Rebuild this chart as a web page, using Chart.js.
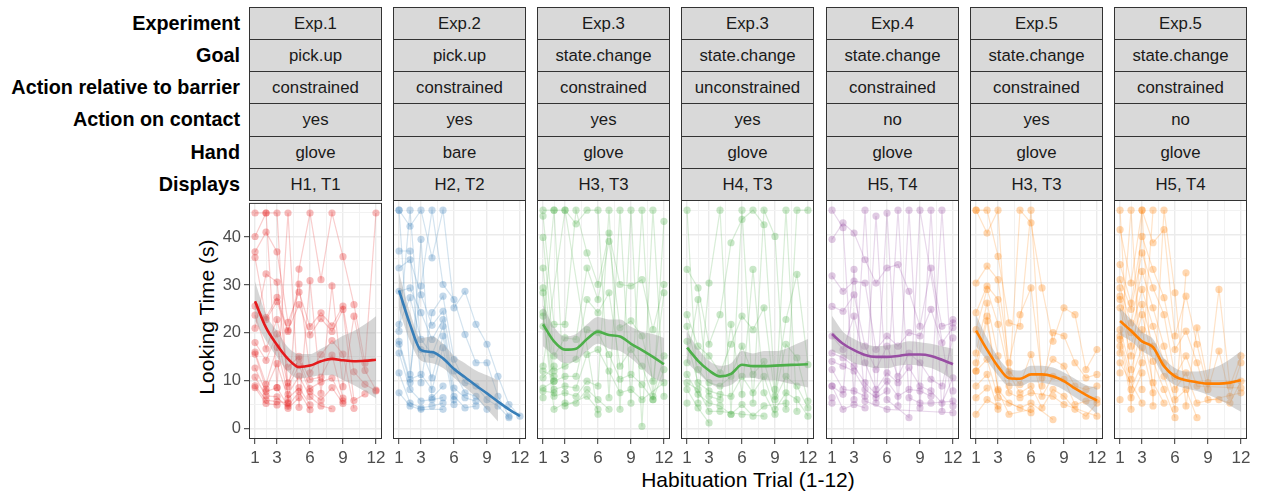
<!DOCTYPE html>
<html><head><meta charset="utf-8">
<script src="https://cdn.jsdelivr.net/npm/chart.js@4/dist/chart.umd.min.js"></script>
<style>
html,body{margin:0;padding:0;background:#fff;}
body{width:1261px;height:494px;position:relative;overflow:hidden;font-family:'Liberation Sans',Arial,sans-serif;}
.strip{position:absolute;box-sizing:border-box;border:1px solid #333;background:#d9d9d9;color:#1a1a1a;font-size:16.8px;display:flex;align-items:center;justify-content:center;white-space:nowrap;}
.rowtitle{position:absolute;left:0;width:240px;text-align:right;font-weight:bold;font-size:19.8px;color:#000;white-space:nowrap;}
.axtitle{position:absolute;font-size:21px;color:#000;text-align:center;white-space:nowrap;line-height:24px;}
canvas{position:absolute;}
</style></head><body>
<script>
// ---------- data ----------
const trials = [1,2,3,4,5,6,7,8,9,10,11,12];
const xTickLabels = [1,3,6,9,12];
const yTickLabels = [0,10,20,30,40];
const rowTitles = ['Experiment','Goal','Action relative to barrier','Action on contact','Hand','Displays'];
const experiments = ['Exp.1','Exp.2','Exp.3','Exp.3','Exp.4','Exp.5','Exp.5'];
const goals = ['pick.up','pick.up','state.change','state.change','state.change','state.change','state.change'];
const barrierRel = ['constrained','constrained','constrained','unconstrained','constrained','constrained','constrained'];
const onContact = ['yes','yes','yes','yes','no','yes','no'];
const hands = ['glove','bare','glove','glove','glove','glove','glove'];
const displays = ['H1, T1','H2, T2','H3, T3','H4, T3','H5, T4','H3, T3','H5, T4'];
const xTitle = 'Habituation Trial (1-12)';
const yTitle = 'Looking Time (s)';

const exp1Subjects = [
[45,45,45,5.3,33.3,45,31.1,45,35.9,25.9,13.7,45],
[40.1,45,8.6,45,4.5,30.9,7.4,29.8,8.8,23.5,12.2,8.1],
[36.9,41,36.9,22.2,28.5,21.3,24.2,21.5,25.6,11.9,9.3,7.9],
[35.7,23.2,27.4,20.6,25.9,19.6,23,20.3,24.9,5.9,7.3],
[25.6,22.8,26.5,20.3,30.2,11.7,15.5,18.4,15.6,4.3],
[23.7,16.7,22.8,12.9,15.1,10.3,10.8,15.4,6.4],
[21,32.3,30.6,9.6,14.6,8.4,9.8,10.6,5.8],
[18,14.3,19.8,8.8,13.2,7.8,6,8.6,5.3],
[16,9.3,17,7.2,11,6.7,4.8,4.2],
[15.6,8.3,13.6,6.3,8.6,5],
[12.7,7.8,8.6,4.7,7.8,4],
[10.8,6.9,6.7,4.3,6.5],
[9,6,5.7,5.5],
[8.6,5.3,5]
];
const exp1Smooth = [26.6,21.1,17.5,14.6,12.9,13.2,14.1,14.6,14.3,14.1,14.2,14.4];
const exp1Lower  = [22.5,18.4,15,11.9,10.5,10.8,11.2,11.2,10.2,9.1,7.8,6.4];
const exp1Upper  = [30.7,23.9,20.4,17,15.6,15.6,16.7,18,19.4,20.4,21.8,23.5];

const exp2Subjects = [
[45,41.7,45,35.2,45,24.9,28.3,21.5,17.4,10.8,5,2.6],
[45,11.2,29.4,45,29.7,26.6,19.4,13.6,13.6,6.7,2.6],
[36.6,36.6,9.5,23.9,27.3,14.3,9.5,8.8,6,4.7,2.3],
[33.1,34.8,27.6,21.3,24.2,11.9,7.4,6.7,4],
[28.3,29,23.9,18.4,22.5,8.4,6.4,5.7],
[21.5,27,18.4,15.3,21.1,6.7,4.3,4.7],
[20.1,45,16.3,10.5,19.1,6],
[18,10.2,11.2,8.1,16.7,5],
[17.4,9.5,39,6.4,8.8],
[15.6,8.1,5.7,6,6.4],
[11.5,5.3,4.3,4.7,5.3],
[7.4,4.7,4,null,4]
];
const exp2Smooth = [28.5,21.5,16.2,15.8,14.5,12.3,10.6,8.9,7.3,5.6,4,2.6];
const exp2Lower  = [24.6,18,14,13.5,12.5,10.5,8.5,6.5,4,1.5,null,null];
const exp2Upper  = [32.1,24,18.7,19,17.5,15,13.5,12,11,10,null,null];

const exp3aSubjects = [
[45,45,45,42.2,45,45,6.4,45,5.3,45,6,42.7],
[43.8,21.5,21.5,45,36.2,29.7,40.3,29.7,29.4,30.7,20.4,29.7],
[39.4,15,18.7,18.4,33.1,26.6,38.6,20.8,22.2,19.1,9.8,28],
[33.1,11.9,12.9,14.3,26.6,23.9,28,12.9,16.3,12.9,6.7,15],
[29,9.8,10.8,10.8,20.4,19.8,15.3,10.2,11.2,9.1,6,12.2],
[28,8.1,8.8,8.4,15.3,16.3,11.9,7.4,8.1,6,null,9.5],
[23.9,6.7,7.4,6.7,9.8,8.8,45,4,45,0.5,45,6.7],
[23.2,4,5.3,5.3,8.1,6,4],
[21.1,45,4.7,null,6.7,4],
[12.9,null,45,null,null,3],
[11.9,10.8],
[10.5,12.9],
[8.4,9.8],
[7.8,7.4],
[6.4]
];
const exp3aSmooth = [21.5,18,16.3,16.5,18.5,20,19.3,19,17.5,16.2,14.8,13.3];
const exp3aLower  = [17,15,13.5,14,16,17.5,16.5,16,14.5,12.5,10.5,9.5];
const exp3aUpper  = [25.5,21,19,19.5,21.5,23,22.5,22.5,21,20,19.5,18.7];

const exp3bSubjects = [
[45,5.3,30,45,3,45,5.3,45,39.6,4,45,45],
[32.8,29,17.4,23.5,38.3,43.1,45,42,8.1,22.5,31.8,13.2],
[23.5,17,15,11.5,17.4,23.2,20.4,24.9,6.7,17.4,14.6,5.7],
[21.1,12.2,9.5,8.8,10.8,17,11.2,13.9,6,10.8,8.8,4.3],
[18,9.5,7.8,7.1,6.7,10.8,7.4,10.8,4,7.4,6,2.6],
[13.6,26.6,6.7,6,21.5,7.1,32.8,7.4,3,45,3.6],
[11.2,7.1,5.3,4.7,3,5,2.6,4.7,null,5.3],
[9.5,8.1,3.6,3.6,null,3,null,2.6],
[8.1,4.3,1.2],
[5.3]
];
const exp3bSmooth = [16.7,14,12,10.8,11.3,13.2,12.9,12.9,13,13.1,13.2,13.3];
const exp3bLower  = [13.6,11.5,9.5,8.5,9,10.5,10.5,10,10,9.5,9,8.5];
const exp3bUpper  = [20.1,16.5,14,13,13.5,16,15.5,16,16,16.5,17.5,18.5];

const exp4Subjects = [
[45,41.4,6,45,5.3,44.4,4.7,45,4.3,45,3.6,22.5],
[39,42.4,40.3,34.8,30,33.1,33.8,28.3,21.1,33.1,21.1,21.8],
[31.5,28.3,30.4,30,16.3,19.1,17,19.8,19.1,24.6,17.7,20.8],
[25.2,24.2,27.6,17,12.2,17,10.8,15.6,13.6,10.2,8.8,18.7],
[19.1,16.3,23.2,13.6,8.1,11.5,9.5,12.6,8.8,7.8,5.3,10.5],
[15.6,14.6,12.9,9.5,7.1,9.8,6.7,8.1,7.8,6.7,45,7.8],
[13.9,12.9,11.9,8.1,6.4,7.8,45,6.4,5.3,5.3,null,5.7],
[12.2,8.1,7.8,6.7,43.8,6,null,2.3,45,null,null,4.7],
[8.8,7.1,32.8,5.7,null,4,null,null,null,null,null,3.3],
[8.8,4,5,4.3],
[6.4],
[5.3]
];
const exp4Smooth = [19.5,17.5,16.2,15.2,14.8,14.8,15,15.3,15.3,15,14.2,13.3];
const exp4Lower  = [16,15,13.5,13,12.5,12.5,13,13.2,13,12.5,11.5,10];
const exp4Upper  = [23.2,20,18.5,17.5,17,17.2,17.5,18,17.8,17.5,17,16.5];

const exp5aSubjects = [
[45,40.3,45,8.8,45,42.4,29,18,24.9,23.5,12.2,16.3],
[45,45,35.5,21.8,21.1,45,8.8,19.8,19.1,13.6,10.5,11.2],
[30,33.5,30.7,13.6,23.5,29,10.5,14.3,12.9,8.8,8.1,8.8],
[23.9,29.4,26.6,11.9,9.1,15.3,6.7,10.8,10.2,5,5.7,6],
[20.4,28.7,21.5,11.2,7.4,8.8,4.3,8.1,6.7,4,2.6,5.3],
[15.6,25.9,15,7.4,6.4,7.4,null,6.7,5,null,null,2.6],
[13.6,23.2,8.1,5.3,4.3,5.3,null,1.9],
[11.9,22.2,7.8,3,null,4],
[11.9,14.3,6.4,null,null,3.3],
[8.8,11.2,4],
[6.4,8.4],
[3,6,4.7]
];
const exp5aSmooth = [20.2,16.3,12.8,10.4,10.3,11.2,11.2,10.8,9.8,8.3,7,5.8];
const exp5aLower  = [17,14,11,8.8,8.8,9.6,9.5,9,8,6.5,5,3];
const exp5aUpper  = [23.5,18.7,14.8,12.3,12,13,13,12.6,11.6,10.3,9,8.5];

const exp5bSubjects = [
[45,4,45,4.7,45,28,4.7,20.8,9.5,28.7,8.8,15],
[41,30,45,38.3,41,19.1,27.3,17.4,8.1,16,6.7,13.6],
[33.8,25.9,39.6,32.8,27,16.3,20.1,13.6,6,6,5.3,9.8],
[30.7,24.6,36.2,29,23.5,10.8,15,8.8,null,null,null,8.4],
[29,21.8,32.4,24.9,17,8.1,11.5,5.3,null,null,null,7.4],
[27.3,19.8,28.7,21.1,13.6,6,8.1,2.3],
[26.6,17,25.6,17,10.8,4,32.1],
[24.9,15,23.5,13.9,8.1,2.3],
[20.4,12.2,20.4,9.5,5.3],
[19.1,10.2,16.7,7.4],
[18.4,8.1,13.6,45],
[17,6.4,11.5],
[15.6,45,8.1],
[13.6,null,5.3],
[11.5],
[6]
];
const exp5bSmooth = [22.2,20.2,18,16.8,12.9,10.8,10,9.6,9.3,9.3,9.5,10];
const exp5bLower  = [19.3,18,16,14.5,10.8,9,8.3,7.8,7,6,4.8,3.5];
const exp5bUpper  = [24.8,22.5,20,18.5,14.5,12.5,11.8,11.8,12.2,13,14.3,16];

// ---------- styles / layout ----------
const FONT = "'Liberation Sans', Arial, sans-serif";
const palette = ['#E41A1C','#377EB8','#4DAF4A','#4DAF4A','#984EA3','#FF7F00','#FF7F00'];
const panelLeft = [249,393,537,681,826,970,1114];
const panelW = 133;
const rowTops = [7,39,71,103,136,168,200];
const xGrid = [1,2,3,4.5,6,7.5,9,10.5,12];
const yGrid = [0,5,10,15,20,25,30,35,40,45];

const panels = [
  [exp1Subjects, exp1Smooth, exp1Lower, exp1Upper],
  [exp2Subjects, exp2Smooth, exp2Lower, exp2Upper],
  [exp3aSubjects, exp3aSmooth, exp3aLower, exp3aUpper],
  [exp3bSubjects, exp3bSmooth, exp3bLower, exp3bUpper],
  [exp4Subjects, exp4Smooth, exp4Lower, exp4Upper],
  [exp5aSubjects, exp5aSmooth, exp5aLower, exp5aUpper],
  [exp5bSubjects, exp5bSmooth, exp5bLower, exp5bUpper]
];
const stripRows = [experiments, goals, barrierRel, onContact, hands, displays];

function rgba(hex, a){
  const n = parseInt(hex.slice(1),16);
  return `rgba(${(n>>16)&255},${(n>>8)&255},${n&255},${a})`;
}
function pts(arr){
  return arr.map((v,i)=> v==null ? null : {x: trials[i], y: v}).filter(Boolean);
}

// row titles
rowTitles.forEach((t,r)=>{
  const d = document.createElement('div');
  d.className = 'rowtitle';
  d.textContent = t;
  const h = rowTops[r+1]-rowTops[r];
  d.style.top = rowTops[r]+'px';
  d.style.height = h+'px';
  d.style.lineHeight = h+'px';
  document.body.appendChild(d);
});
// strips
for (let p=0;p<7;p++){
  stripRows.forEach((row,r)=>{
    const d = document.createElement('div');
    d.className = 'strip';
    d.textContent = row[p];
    d.style.left = panelLeft[p]+'px';
    d.style.width = panelW+'px';
    d.style.top = rowTops[r]+'px';
    d.style.height = (rowTops[r+1]-rowTops[r]+1)+'px';
    document.body.appendChild(d);
  });
}
// axis titles
const xt = document.createElement('div');
xt.className='axtitle'; xt.textContent = xTitle;
xt.style.left='548px'; xt.style.width='400px'; xt.style.top='468px';
document.body.appendChild(xt);
const yt = document.createElement('div');
yt.className='axtitle'; yt.textContent = yTitle;
yt.style.left=(207-120)+'px'; yt.style.width='240px'; yt.style.top=(317-12)+'px';
yt.style.transform='rotate(-90deg)';
document.body.appendChild(yt);

const borderPlugin = {
  id:'pborder',
  afterDraw(chart){
    const {ctx, chartArea:a} = chart;
    ctx.save();
    ctx.strokeStyle='#333333'; ctx.lineWidth=1;
    ctx.strokeRect(a.left+0.5, a.top+0.5, a.right-a.left-1, a.bottom-a.top-1);
    ctx.restore();
  }
};

const CAN_TOP = 190, CAN_H = 284, PAD = 12, YW = 60;

panels.forEach((pd, p)=>{
  const [subjects, smooth, lower, upper] = pd;
  const color = palette[p];
  const extraL = p===0 ? YW : 0;
  const cv = document.createElement('canvas');
  const w = panelW + 2*PAD + extraL;
  cv.width = w; cv.height = CAN_H;
  cv.style.left = (panelLeft[p]-PAD-extraL)+'px';
  cv.style.top = CAN_TOP+'px';
  cv.style.width = w+'px'; cv.style.height = CAN_H+'px';
  document.body.appendChild(cv);

  const datasets = [];
  datasets.push({data: pts(smooth), borderColor: color, borderWidth: 2.6, pointRadius: 0,
    cubicInterpolationMode:'monotone', fill:false, order:0});
  datasets.push({data: pts(lower), borderColor:'rgba(0,0,0,0)', borderWidth:0, pointRadius:0,
    cubicInterpolationMode:'monotone', fill:false, order:1});
  datasets.push({data: pts(upper), borderColor:'rgba(0,0,0,0)', borderWidth:0, pointRadius:0,
    cubicInterpolationMode:'monotone', fill:1, backgroundColor:'rgba(153,153,153,0.4)', order:1});
  subjects.forEach(s=>{
    datasets.push({data: pts(s), borderColor: rgba(color,0.22), borderWidth:1.2,
      pointRadius:3.6, pointBackgroundColor: rgba(color,0.3), pointBorderWidth:0,
      pointHoverRadius:3.6, fill:false, tension:0, order:2});
  });

  new Chart(cv, {
    type:'line',
    data:{datasets},
    plugins:[borderPlugin],
    options:{
      responsive:false, animation:false, devicePixelRatio:1,
      layout:{padding:{left:PAD, right:PAD, top:10, bottom:0}},
      plugins:{legend:{display:false}, tooltip:{enabled:false}},
      events:[],
      scales:{
        x:{
          type:'linear', min:0.45, max:12.55,
          afterBuildTicks: a => { a.ticks = xGrid.map(v=>({value:v})); },
          afterFit: s => { s.height = 35; },
          border:{display:false},
          ticks:{autoSkip:false, maxRotation:0, minRotation:0, color:'#4d4d4d', padding:4,
            font:{size:17, family:FONT},
            callback: v => xTickLabels.includes(v) ? String(v) : ''},
          grid:{
            color: c => xTickLabels.includes(c.tick.value) ? '#ebebeb' : '#f2f2f2',
            lineWidth: c => xTickLabels.includes(c.tick.value) ? 1.4 : 1,
            tickLength:5,
            tickColor: c => xTickLabels.includes(c.tick.value) ? '#333333' : 'rgba(0,0,0,0)',
            tickWidth:1
          }
        },
        y:{
          type:'linear', min:-2.1, max:47.1,
          afterBuildTicks: a => { a.ticks = yGrid.map(v=>({value:v})); },
          afterFit: s => { s.width = p===0 ? YW : 0; },
          border:{display:false},
          ticks:{display: p===0, color:'#4d4d4d', padding:3, font:{size:16.5, family:FONT},
            callback: v => yTickLabels.includes(v) ? String(v) : ''},
          grid:{
            color: c => yTickLabels.includes(c.tick.value) ? '#ebebeb' : '#f2f2f2',
            lineWidth: c => yTickLabels.includes(c.tick.value) ? 1.4 : 1,
            drawTicks: p===0, tickLength:5,
            tickColor: c => yTickLabels.includes(c.tick.value) ? '#333333' : 'rgba(0,0,0,0)',
            tickWidth:1
          }
        }
      }
    }
  });
});
</script>
</body></html>
